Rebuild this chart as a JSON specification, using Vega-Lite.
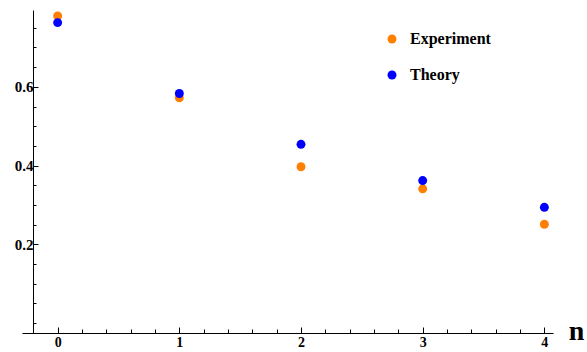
{
  "$schema": "https://vega.github.io/schema/vega-lite/v6.json",
  "width": 531,
  "height": 323,
  "autosize": {"type": "none"},
  "padding": {"left": 22, "top": 10, "right": 34, "bottom": 19},
  "background": "white",
  "config": {"view": {"stroke": null}, "font": "Times New Roman, Liberation Serif, serif"},
  "data": {
    "values": [
      {"n": 0, "value": 0.780, "series": "Experiment"},
      {"n": 1, "value": 0.572, "series": "Experiment"},
      {"n": 2, "value": 0.397, "series": "Experiment"},
      {"n": 3, "value": 0.341, "series": "Experiment"},
      {"n": 4, "value": 0.251, "series": "Experiment"},
      {"n": 0, "value": 0.763, "series": "Theory"},
      {"n": 1, "value": 0.583, "series": "Theory"},
      {"n": 2, "value": 0.454, "series": "Theory"},
      {"n": 3, "value": 0.362, "series": "Theory"},
      {"n": 4, "value": 0.294, "series": "Theory"}
    ]
  },
  "mark": {"type": "circle", "size": 80, "opacity": 1},
  "encoding": {
    "x": {
      "field": "n",
      "type": "quantitative",
      "scale": {"domain": [-0.293, 4.071], "nice": false, "zero": false},
      "axis": {
        "title": "n",
        "values": [0, 0.2, 0.4, 0.6, 0.8, 1, 1.2, 1.4, 1.6, 1.8, 2, 2.2, 2.4, 2.6, 2.8, 3, 3.2, 3.4, 3.6, 3.8, 4],
        "labelExpr": "abs(datum.value - round(datum.value)) < 0.001 ? format(datum.value, 'd') : ''",
        "tickSize": {"condition": {"test": "abs(datum.value - round(datum.value)) < 0.001", "value": -6}, "value": -4},
        "tickColor": "black",
        "domainColor": "black",
        "grid": false,
        "labelFont": "Times New Roman, Liberation Serif, serif",
        "labelFontWeight": "bold",
        "labelFontSize": 14,
        "labelColor": "black",
        "labelBaseline": "alphabetic",
        "labelPadding": 19,
        "labelFlush": false,
        "labelOverlap": false,
        "titleFont": "Times New Roman, Liberation Serif, serif",
        "titleFontWeight": "bold",
        "titleFontSize": 28,
        "titleColor": "black",
        "titleX": 554,
        "titleY": 6,
        "titleAlign": "center",
        "titleBaseline": "alphabetic",
        "titleAnchor": null
      }
    },
    "y": {
      "field": "value",
      "type": "quantitative",
      "scale": {"domain": [-0.025, 0.795], "nice": false, "zero": false},
      "axis": {
        "title": null,
        "offset": -11,
        "values": [0, 0.05, 0.1, 0.15, 0.2, 0.25, 0.3, 0.35, 0.4, 0.45, 0.5, 0.55, 0.6, 0.65, 0.7, 0.75],
        "labelExpr": "(datum.value > 0.01 && abs(datum.value * 5 - round(datum.value * 5)) < 0.001) ? format(datum.value, '.1f') : ''",
        "tickSize": {"condition": {"test": "datum.value > 0.01 && abs(datum.value * 5 - round(datum.value * 5)) < 0.001", "value": -5}, "value": -3},
        "tickColor": "black",
        "domainColor": "black",
        "grid": false,
        "labelFont": "Times New Roman, Liberation Serif, serif",
        "labelFontWeight": "bold",
        "labelFontSize": 15,
        "labelColor": "black",
        "labelPadding": 5,
        "labelFlush": false,
        "labelOverlap": false
      }
    },
    "color": {
      "field": "series",
      "type": "nominal",
      "scale": {"domain": ["Experiment", "Theory"], "range": ["#FF7F00", "#0000FF"]},
      "legend": {
        "title": null,
        "orient": "none",
        "legendX": 362,
        "legendY": 21,
        "padding": 0,
        "symbolType": "circle",
        "symbolSize": 80,
        "symbolStrokeWidth": 0,
        "symbolOpacity": 1,
        "labelFont": "Times New Roman, Liberation Serif, serif",
        "labelFontWeight": "bold",
        "labelFontSize": 16,
        "labelColor": "black",
        "labelOffset": 10,
        "rowPadding": 20
      }
    }
  }
}
